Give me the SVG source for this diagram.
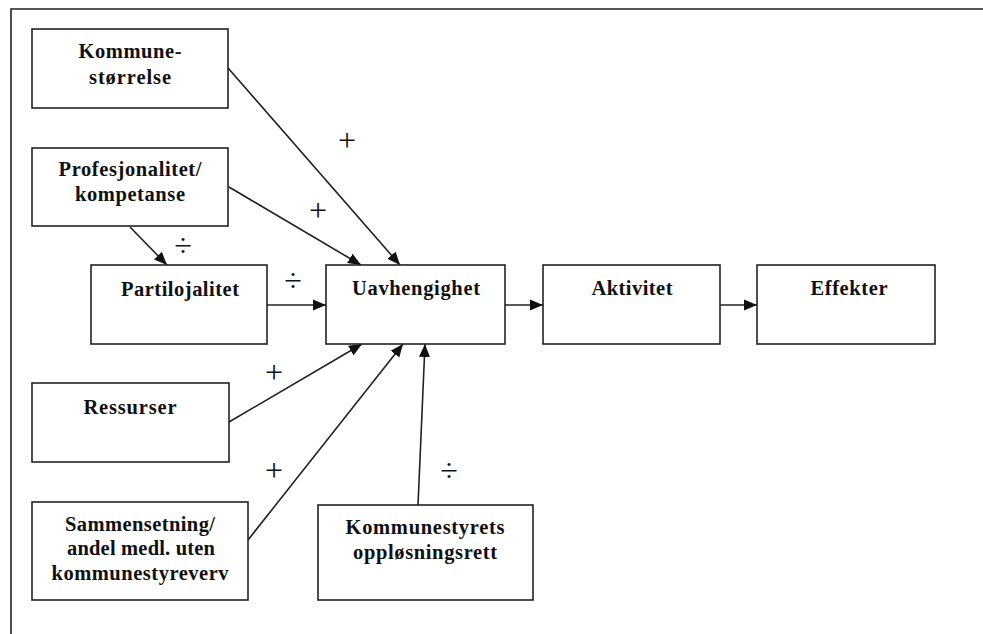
<svg xmlns="http://www.w3.org/2000/svg" width="983" height="634" viewBox="0 0 983 634">
<defs>
<style>
.box{fill:#fff;stroke:#222;stroke-width:1.6}
.t{font-family:"Liberation Serif","Times New Roman",serif;font-weight:bold;font-size:20.5px;fill:#111;text-anchor:middle}
.s{font-family:"Liberation Serif","Times New Roman",serif;font-size:32px;fill:#111;text-anchor:middle}
.c{stroke:#222;stroke-width:1.6;fill:none;marker-end:url(#ah)}
</style>
<marker id="ah" markerUnits="userSpaceOnUse" markerWidth="14" markerHeight="12" refX="13" refY="6" orient="auto">
<path d="M0,0.5 L13,6 L0,11.5 Z" fill="#111"/>
</marker>
</defs>
<rect width="983" height="634" fill="#fff"/>
<path d="M11,634 V9 H983" fill="none" stroke="#222" stroke-width="1.6"/>

<g id="connectors">
<line class="c" x1="228" y1="68" x2="400" y2="265"/>
<line class="c" x1="229" y1="187" x2="361" y2="265"/>
<line class="c" x1="130" y1="227" x2="167" y2="265"/>
<line class="c" x1="267" y1="305" x2="326" y2="305"/>
<line class="c" x1="505" y1="305" x2="543" y2="305"/>
<line class="c" x1="720" y1="305" x2="757" y2="305"/>
<line class="c" x1="229" y1="422" x2="362" y2="344"/>
<line class="c" x1="248" y1="540" x2="403" y2="344"/>
<line class="c" x1="418" y1="505" x2="425" y2="344"/>
<text class="s" x="347" y="151">+</text>
<text class="s" x="318" y="221">+</text>
<text class="s" x="183" y="256">÷</text>
<text class="s" x="293" y="291">÷</text>
<text class="s" x="274" y="383">+</text>
<text class="s" x="274" y="481">+</text>
<text class="s" x="449" y="481">÷</text>
</g>

<g id="kommunestorrelse">
<rect class="box" x="32" y="29" width="196" height="79"/>
<text class="t" x="130" y="58" textLength="103" lengthAdjust="spacing">Kommune-</text>
<text class="t" x="130" y="84" textLength="82" lengthAdjust="spacing">størrelse</text>
</g>

<g id="profesjonalitet">
<rect class="box" x="32" y="148" width="196" height="78"/>
<text class="t" x="130" y="176" textLength="143" lengthAdjust="spacing">Profesjonalitet/</text>
<text class="t" x="130" y="201" textLength="110" lengthAdjust="spacing">kompetanse</text>
</g>

<g id="partilojalitet">
<rect class="box" x="91" y="265" width="176" height="79"/>
<text class="t" x="180" y="296" textLength="118" lengthAdjust="spacing">Partilojalitet</text>
</g>

<g id="uavhengighet">
<rect class="box" x="326" y="265" width="179" height="79"/>
<text class="t" x="416" y="295" textLength="128" lengthAdjust="spacing">Uavhengighet</text>
</g>

<g id="aktivitet">
<rect class="box" x="543" y="265" width="177" height="79"/>
<text class="t" x="632" y="295" textLength="81" lengthAdjust="spacing">Aktivitet</text>
</g>

<g id="effekter">
<rect class="box" x="757" y="265" width="178" height="79"/>
<text class="t" x="849" y="295" textLength="77" lengthAdjust="spacing">Effekter</text>
</g>

<g id="ressurser">
<rect class="box" x="32" y="383" width="197" height="79"/>
<text class="t" x="130" y="414" textLength="93" lengthAdjust="spacing">Ressurser</text>
</g>

<g id="sammensetning">
<rect class="box" x="32" y="502" width="216" height="98"/>
<text class="t" x="140" y="531" textLength="150" lengthAdjust="spacing">Sammensetning/</text>
<text class="t" x="141" y="555" textLength="148" lengthAdjust="spacing">andel medl. uten</text>
<text class="t" x="140" y="580" textLength="177" lengthAdjust="spacing">kommunestyreverv</text>
</g>

<g id="opplosningsrett">
<rect class="box" x="318" y="505" width="215" height="95"/>
<text class="t" x="425" y="534" textLength="159" lengthAdjust="spacing">Kommunestyrets</text>
<text class="t" x="425" y="559" textLength="144" lengthAdjust="spacing">oppløsningsrett</text>
</g>
</svg>
